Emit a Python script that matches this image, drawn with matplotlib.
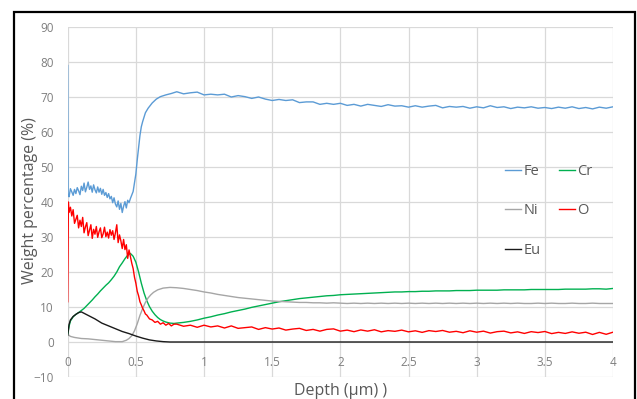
import matplotlib
matplotlib.use("Agg")
import matplotlib.pyplot as plt
from matplotlib.patches import Rectangle

plt.rcParams['font.family'] = ['Open Sans', 'DejaVu Sans']

# ---------------- data ----------------
fe_depth = [0.0, 0.003, 0.01, 0.02, 0.03, 0.04, 0.05, 0.06, 0.07, 0.08, 0.09, 0.10,
            0.11, 0.12, 0.13, 0.14, 0.15, 0.16, 0.17, 0.18, 0.19, 0.20, 0.21, 0.22,
            0.23, 0.24, 0.25, 0.26, 0.27, 0.28, 0.29, 0.30, 0.31, 0.32, 0.33, 0.34,
            0.35, 0.36, 0.37, 0.38, 0.39, 0.40, 0.41, 0.42, 0.43, 0.44, 0.45, 0.46,
            0.47, 0.48, 0.49, 0.50, 0.51, 0.52, 0.53, 0.54, 0.55, 0.57, 0.59, 0.62,
            0.65, 0.68, 0.72, 0.76]
fe_head = [79.0, 42.0, 41.5, 43.8, 42.9, 41.9, 43.6, 42.4, 44.1, 43.2, 42.1, 44.5,
           43.3, 45.4, 42.9, 44.2, 45.7, 43.6, 44.6, 42.8, 44.9, 43.5, 42.6, 44.3,
           42.8, 43.9, 42.2, 43.6, 41.9, 42.7, 41.3, 42.4, 40.9, 41.6, 39.8, 41.2,
           39.4, 38.6, 40.3, 37.9, 39.6, 37.0, 38.8, 40.1, 38.3, 40.5, 39.8, 41.0,
           42.0, 43.0, 45.5, 48.0, 52.0, 55.5, 59.0, 61.5, 63.0, 65.5, 66.8, 68.3,
           69.4, 70.1, 70.6, 71.0]

tail_depth = [0.80, 0.85, 0.90, 0.95, 1.00, 1.05, 1.10, 1.15, 1.20, 1.25, 1.30, 1.35,
              1.40, 1.45, 1.50, 1.55, 1.60, 1.65, 1.70, 1.75, 1.80, 1.85, 1.90, 1.95,
              2.00, 2.05, 2.10, 2.15, 2.20, 2.25, 2.30, 2.35, 2.40, 2.45, 2.50, 2.55,
              2.60, 2.65, 2.70, 2.75, 2.80, 2.85, 2.90, 2.95, 3.00, 3.05, 3.10, 3.15,
              3.20, 3.25, 3.30, 3.35, 3.40, 3.45, 3.50, 3.55, 3.60, 3.65, 3.70, 3.75,
              3.80, 3.85, 3.90, 3.95, 4.00]
fe_tail = [71.5, 70.9, 71.2, 71.4, 70.6, 70.8, 70.6, 70.8, 70.0, 70.4, 70.1, 69.6,
           70.0, 69.4, 69.0, 69.3, 69.0, 69.2, 68.4, 68.6, 68.6, 67.9, 68.2, 67.9,
           68.2, 67.6, 67.9, 67.4, 67.9, 67.6, 67.3, 67.8, 67.4, 67.5, 67.1, 67.5,
           67.1, 67.4, 67.6, 66.9, 67.3, 67.1, 67.3, 66.8, 67.2, 66.9, 67.5, 67.0,
           67.2, 66.7, 67.1, 66.9, 67.2, 66.8, 67.0, 66.7, 67.1, 66.8, 67.2, 66.7,
           67.0, 66.6, 67.1, 66.8, 67.2]

o_depth = [0.0, 0.005, 0.01, 0.02, 0.03, 0.04, 0.05, 0.06, 0.07, 0.08, 0.09, 0.10,
           0.11, 0.12, 0.13, 0.14, 0.15, 0.16, 0.17, 0.18, 0.19, 0.20, 0.21, 0.22,
           0.23, 0.24, 0.25, 0.26, 0.27, 0.28, 0.29, 0.30, 0.31, 0.32, 0.33, 0.34,
           0.35, 0.36, 0.37, 0.38, 0.39, 0.40, 0.41, 0.42, 0.43, 0.44, 0.45, 0.46,
           0.47, 0.48, 0.49, 0.50, 0.51, 0.52, 0.53, 0.54, 0.55, 0.56, 0.57, 0.58,
           0.60, 0.62, 0.64, 0.66, 0.68, 0.70, 0.72, 0.74, 0.76, 0.78]
o_head = [11.5, 40.0, 37.0, 38.5, 36.0, 37.8, 33.9, 35.1, 36.2, 32.6, 34.8, 33.0,
          35.6, 31.2, 32.9, 34.1, 30.4, 31.9, 33.5, 29.6, 32.2, 30.8, 33.0, 29.9,
          31.5, 32.6, 29.8, 30.9, 32.8, 30.1, 31.4, 29.7, 32.1, 30.5, 31.8, 29.3,
          31.2, 33.5, 28.4, 30.6, 28.9, 26.7, 29.3, 26.4, 27.8, 23.9, 26.3, 24.4,
          22.5, 21.0, 18.5, 16.8, 14.5, 13.2, 11.5, 10.6, 9.6, 8.9, 8.0, 7.7,
          6.6, 6.3, 5.6, 5.9, 5.1, 5.5, 4.8, 5.3, 4.6, 5.1]
o_tail = [5.1, 4.5, 4.8, 4.2, 4.8, 4.3, 4.6, 4.0, 4.6, 3.9, 4.1, 4.3,
          3.6, 4.1, 3.7, 4.0, 3.4, 3.7, 3.9, 3.3, 3.6, 3.1, 3.6, 3.75,
          3.1, 3.4, 2.95, 3.45, 3.1, 3.5, 2.9, 3.25, 3.05, 3.4, 2.9, 3.2,
          2.75, 3.25, 3.0, 3.3, 2.8, 3.05, 2.65, 3.2, 2.8, 3.1, 2.55, 2.95,
          3.1, 2.6, 2.9, 2.45, 2.95, 2.7, 3.0, 2.4, 2.75, 2.45, 2.9, 2.5,
          2.8, 2.15, 2.75, 2.2, 2.8]

cr_depth = [0.00, 0.01, 0.02, 0.04, 0.06, 0.08, 0.10, 0.12, 0.14, 0.16, 0.18, 0.20,
            0.22, 0.24, 0.26, 0.28, 0.30, 0.32, 0.34, 0.36, 0.38, 0.40, 0.42, 0.44,
            0.46, 0.48, 0.50, 0.52, 0.54, 0.56, 0.58, 0.60, 0.62, 0.64, 0.66, 0.68,
            0.70, 0.72, 0.75, 0.78]
cr_head = [2.0, 4.5, 6.0, 7.2, 7.9, 8.4, 9.0, 9.6, 10.4, 11.2, 12.0, 12.9,
           13.7, 14.6, 15.4, 16.2, 16.9, 17.8, 18.8, 20.0, 21.5, 22.6, 23.8, 24.8,
           25.3, 24.5, 22.8, 20.0, 16.8, 14.0, 11.8, 10.1, 8.8, 7.8, 7.0, 6.4,
           6.0, 5.7, 5.4, 5.3]
cr_tail = [5.4, 5.6, 5.9, 6.3, 6.8, 7.2, 7.7, 8.1, 8.6, 9.0, 9.4, 9.9,
           10.3, 10.7, 11.1, 11.5, 11.8, 12.1, 12.4, 12.6, 12.8, 13.0, 13.2, 13.3,
           13.5, 13.6, 13.7, 13.8, 13.9, 14.0, 14.1, 14.2, 14.3, 14.3, 14.4, 14.4,
           14.5, 14.5, 14.6, 14.6, 14.6, 14.7, 14.7, 14.7, 14.8, 14.8, 14.8, 14.8,
           14.9, 14.9, 14.9, 14.9, 15.0, 15.0, 15.0, 15.0, 15.0, 15.1, 15.1, 15.1,
           15.1, 15.2, 15.2, 15.1, 15.3]

ni_depth = [0.00, 0.02, 0.05, 0.10, 0.15, 0.20, 0.25, 0.30, 0.35, 0.40, 0.43, 0.45,
            0.47, 0.49, 0.51, 0.53, 0.55, 0.57, 0.59, 0.61, 0.63, 0.66, 0.70, 0.75]
ni_head = [2.2, 1.6, 1.3, 1.0, 0.9, 0.7, 0.5, 0.3, 0.1, 0.1, 0.5, 1.0,
           1.8, 3.2, 5.2, 7.6, 9.6, 11.3, 12.6, 13.5, 14.2, 14.9, 15.4, 15.6]
ni_tail = [15.5, 15.3, 15.0, 14.7, 14.3, 14.0, 13.6, 13.3, 13.0, 12.7, 12.5, 12.3,
           12.1, 11.9, 11.7, 11.6, 11.5, 11.4, 11.3, 11.3, 11.2, 11.2, 11.1, 11.2,
           11.1, 11.0, 11.1, 11.0, 11.1, 11.0, 11.1, 11.0, 11.1, 11.0, 11.1, 11.0,
           11.1, 11.0, 11.1, 11.0, 11.1, 11.0, 11.1, 11.0, 11.1, 11.0, 11.1, 11.0,
           11.1, 11.0, 11.1, 11.0, 11.0, 11.1, 11.0, 11.1, 11.0, 11.0, 11.1, 11.0,
           11.0, 11.1, 11.0, 11.0, 11.0]

eu_depth = [0.00, 0.01, 0.02, 0.04, 0.06, 0.08, 0.10, 0.12, 0.15, 0.20, 0.25, 0.30,
            0.35, 0.40, 0.45, 0.50, 0.55, 0.60, 0.65, 0.70, 0.75, 4.00]
eu_vals = [2.0, 5.0, 6.3, 7.3, 7.9, 8.4, 8.6, 8.2, 7.6, 6.6, 5.4, 4.6,
           3.8, 3.0, 2.4, 1.7, 1.1, 0.6, 0.3, 0.1, 0.0, 0.0]

series_names = ["Fe", "Cr", "Ni", "O", "Eu"]
series_colors = ["#5B9BD5", "#00B050", "#A6A6A6", "#FF0000", "#1A1A1A"]

x_ticks = [0, 0.5, 1, 1.5, 2, 2.5, 3, 3.5, 4]
x_tick_labels = ["0", "0.5", "1", "1.5", "2", "2.5", "3", "3.5", "4"]
y_ticks = [-10, 0, 10, 20, 30, 40, 50, 60, 70, 80, 90]

# ---------------- figure ----------------
W, H = 637, 399
fig = plt.figure(figsize=(W / 100, H / 100), dpi=100)
ax = fig.add_axes([67.7 / W, 1 - 377 / H, (613 - 67.7) / W, (377 - 27) / H])

series = [
    (fe_depth + tail_depth, fe_head + fe_tail),
    (cr_depth + tail_depth, cr_head + cr_tail),
    (ni_depth + tail_depth, ni_head + ni_tail),
    (o_depth + tail_depth, o_head + o_tail),
    (eu_depth, eu_vals),
]
for (xs, ys), name, col in zip(series, series_names, series_colors):
    ax.plot(xs, ys, color=col, lw=1.0, label=name, solid_joinstyle='round')

ax.set_xlim(0, 4)
ax.set_ylim(-10, 90)
ax.set_xticks(x_ticks)
ax.set_xticklabels(x_tick_labels)
ax.set_yticks(y_ticks)
ax.grid(True, color="#D9D9D9", lw=0.9)
ax.set_axisbelow(True)
for s in ax.spines.values():
    s.set_visible(False)
ax.spines['bottom'].set_position(('data', 0))
ax.tick_params(axis='both', length=0, colors="#7F7F7F", labelsize=8.5)
ax.tick_params(axis='x', pad=10)
ax.tick_params(axis='y', pad=10)

fig.text(30 / W, 1 - 201 / H, "Weight percentage (%)", rotation=90,
         ha='center', va='center', fontsize=11.5, color="#595959")
fig.text(341 / W, 1 - 391 / H, "Depth (μm) )", ha='center', va='center',
         fontsize=11.5, color="#595959")

handles, labels = ax.get_legend_handles_labels()
order = [0, 2, 4, 1, 3]
leg = fig.legend([handles[i] for i in order], [labels[i] for i in order],
                 loc='upper left', bbox_to_anchor=(505 / W, 1 - 164 / H),
                 ncol=2, frameon=False, fontsize=10.5, handlelength=1.1,
                 handletextpad=0.15, columnspacing=1.3, labelspacing=1.68,
                 borderpad=0, borderaxespad=0)
for t in leg.get_texts():
    t.set_color("#595959")

fig.patches.append(Rectangle((14 / W, -0.05), (635 - 14) / W, 1.05 - 12 / H,
                             transform=fig.transFigure, fill=False,
                             edgecolor='black', lw=1.6))

fig.savefig("out.png", dpi=100)
